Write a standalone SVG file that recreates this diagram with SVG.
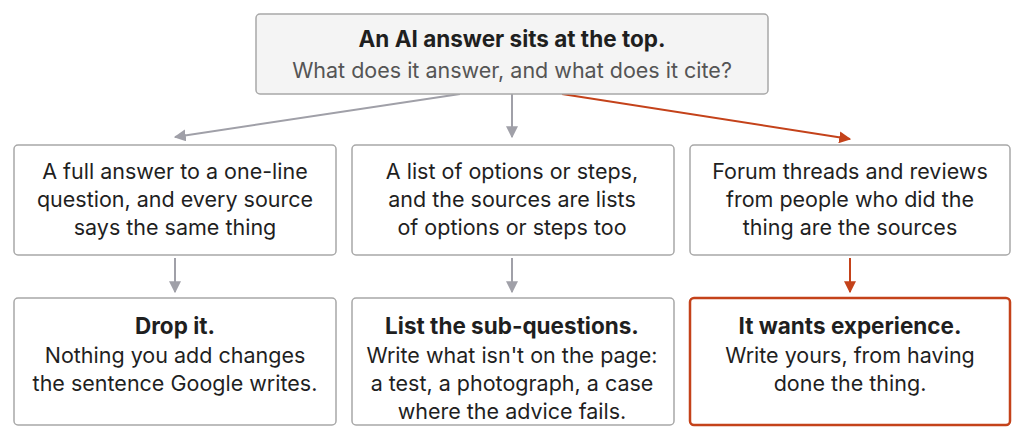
<svg xmlns="http://www.w3.org/2000/svg" width="1024" height="444" viewBox="0 0 1024 444">
<style>
text{font-family:"Inter","Liberation Sans",sans-serif;font-size:21.5px;fill:#1f1f1f;text-anchor:middle}
.b{font-weight:bold;font-size:22.5px}
.s{fill:#555}
.box{fill:#fff;stroke:#a8a8a8;stroke-width:1.5}
.g{stroke:#a0a0a8;stroke-width:2;fill:none}
.o{stroke:#c4421a;stroke-width:2;fill:none}
</style>
<defs>
<marker id="ag" viewBox="0 0 10 10" refX="9" refY="5" markerWidth="6" markerHeight="6" orient="auto"><path d="M0,0L10,5L0,10z" fill="#a0a0a8"/></marker>
<marker id="ao" viewBox="0 0 10 10" refX="9" refY="5" markerWidth="6" markerHeight="6" orient="auto"><path d="M0,0L10,5L0,10z" fill="#c4421a"/></marker>
</defs>
<g id="connectors">
<path class="g" d="M460,94L175,137" marker-end="url(#ag)"/>
<path class="g" d="M512,94L512,137" marker-end="url(#ag)"/>
<path class="o" d="M562,94L850,139" marker-end="url(#ao)"/>
<path class="g" d="M175,258L175,292" marker-end="url(#ag)"/>
<path class="g" d="M512,258L512,292" marker-end="url(#ag)"/>
<path class="o" d="M850,258L850,292" marker-end="url(#ao)"/>
</g>
<g id="top"><rect x="256" y="14" width="512" height="80" rx="4" fill="#f4f4f4" stroke="#a8a8a8" stroke-width="1.5"/>
<text class="b" x="512" y="47">An AI answer sits at the top.</text>
<text class="s" x="512" y="78">What does it answer, and what does it cite?</text></g>
<g id="c1"><rect class="box" x="14" y="145" width="322" height="110" rx="4"/>
<text x="175" y="179">A full answer to a one-line</text><text x="175" y="207">question, and every source</text><text x="175" y="235">says the same thing</text></g>
<g id="c2"><rect class="box" x="352" y="145" width="322" height="110" rx="4"/>
<text x="512" y="179">A list of options or steps,</text><text x="512" y="207">and the sources are lists</text><text x="512" y="235">of options or steps too</text></g>
<g id="c3"><rect class="box" x="690" y="145" width="320" height="110" rx="4"/>
<text x="850" y="179">Forum threads and reviews</text><text x="850" y="207">from people who did the</text><text x="850" y="235">thing are the sources</text></g>
<g id="d1"><rect class="box" x="14" y="298" width="322" height="127" rx="4"/>
<text class="b" x="175" y="334">Drop it.</text><text x="175" y="363">Nothing you add changes</text><text x="175" y="391">the sentence Google writes.</text></g>
<g id="d2"><rect class="box" x="352" y="298" width="322" height="127" rx="4"/>
<text class="b" x="512" y="334">List the sub-questions.</text><text x="512" y="363">Write what isn't on the page:</text><text x="512" y="391">a test, a photograph, a case</text><text x="512" y="419">where the advice fails.</text></g>
<g id="d3"><rect x="690" y="298" width="320" height="127" rx="4" fill="#fff" stroke="#c4421a" stroke-width="2.5"/>
<text class="b" x="850" y="334">It wants experience.</text><text x="850" y="363">Write yours, from having</text><text x="850" y="391">done the thing.</text></g>
</svg>
